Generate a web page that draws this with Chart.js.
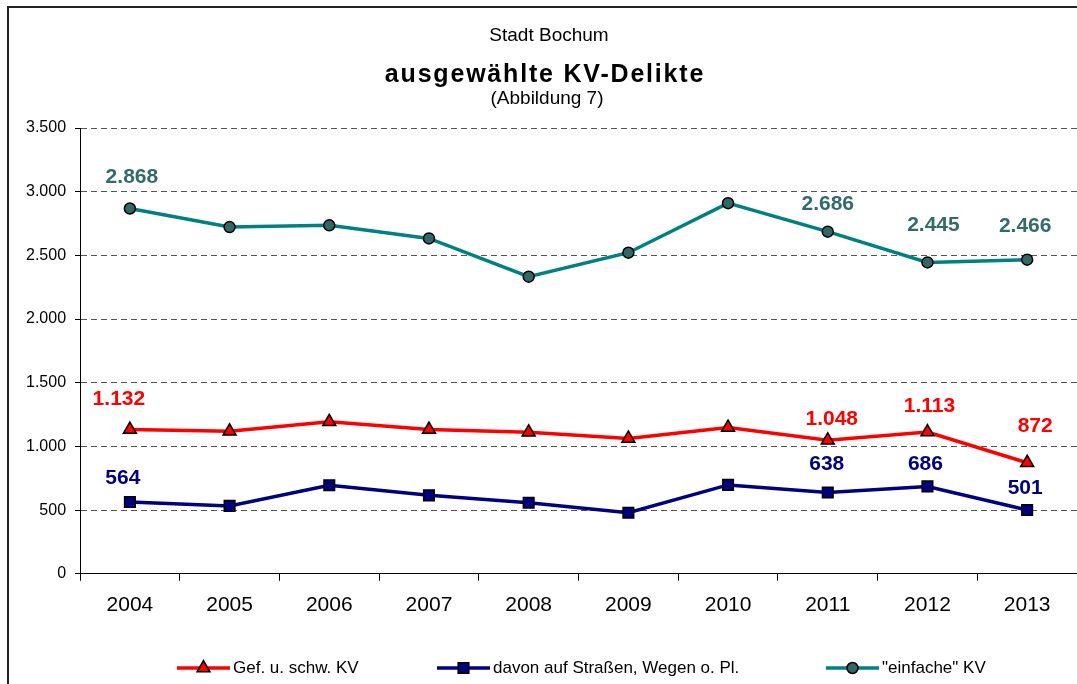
<!DOCTYPE html>
<html>
<head>
<meta charset="utf-8">
<title>ausgewählte KV-Delikte</title>
<script src="https://cdn.jsdelivr.net/npm/chart.js@4/dist/chart.umd.min.js"></script>
<style>
  html, body { margin: 0; padding: 0; background: #fff; overflow: hidden; }
  #wrap { width: 1077px; height: 684px; }
</style>
</head>
<body>
<div id="wrap"><canvas id="myChart" width="1077" height="684"></canvas></div>
<script>
// years on the x axis
const years = ['2004', '2005', '2006', '2007', '2008', '2009', '2010', '2011', '2012', '2013'];

// Gef. u. schw. KV
const gefSchw = [1132, 1119, 1193, 1132, 1111, 1063, 1148, 1048, 1113, 872];
// davon auf Straßen, Wegen o. Pl.
const strassen = [564, 533, 695, 616, 558, 479, 698, 638, 686, 501];
// "einfache" KV
const einfache = [2868, 2722, 2736, 2633, 2333, 2521, 2910, 2686, 2445, 2466];

// which points get a value label (index into years)
const labeledPoints = [0, 7, 8, 9];

const yTicks = [0, 500, 1000, 1500, 2000, 2500, 3000, 3500];

const FONT = '"Liberation Sans", Arial, sans-serif';

function fmt(v) {
  return String(v).replace(/\B(?=(\d{3})+(?!\d))/g, '.');
}

// label offsets (dx, dy) relative to the point, per dataset, per labeled point
const labelOffsets = [
  [[-11, -30], [4, -21], [2, -26], [8, -37]],
  [[-7, -24], [-1, -28], [-2, -22], [-2, -22]],
  [[2, -31], [0, -27], [6, -37], [-2, -33]]
];
const labelColors = ['#FF0000', '#000080', '#336B6B'];

function drawMarker(c, style, r, x, y) {
  if (style === 'triangle') {
    c.moveTo(x, y - r);
    c.lineTo(x + r * Math.sin(Math.PI / 3), y + r / 2);
    c.lineTo(x - r * Math.sin(Math.PI / 3), y + r / 2);
    c.closePath();
  } else if (style === 'rect') {
    const s = r * Math.SQRT1_2;
    c.rect(x - s, y - s, 2 * s, 2 * s);
  } else {
    c.arc(x, y, r, 0, Math.PI * 2);
  }
}

const decor = {
  id: 'decor',
  beforeDraw(chart) {
    const c = chart.ctx;
    c.save();
    c.fillStyle = '#fff';
    c.fillRect(0, 0, chart.width, chart.height);
    // outer frame (runs off the right and bottom)
    c.strokeStyle = '#222';
    c.lineWidth = 2;
    c.beginPath();
    c.moveTo(8, chart.height + 2);
    c.lineTo(8, 7);
    c.lineTo(chart.width + 2, 7);
    c.stroke();

    // titles
    c.fillStyle = '#000';
    c.textAlign = 'center';
    c.textBaseline = 'alphabetic';
    c.font = '19px ' + FONT;
    c.fillText('Stadt Bochum', 549, 41);
    c.font = 'bold 25px ' + FONT;
    c.letterSpacing = '1.8px';
    c.fillText('ausgewählte KV-Delikte', 545, 82);
    c.letterSpacing = '0px';
    c.font = '19px ' + FONT;
    c.fillText('(Abbildung 7)', 547, 104);
    c.restore();
  },
  afterDraw(chart) {
    const c = chart.ctx;
    c.save();
    // legend
    const items = [
      { x: 177, text: 'Gef. u. schw. KV', ds: 0 },
      { x: 437, text: 'davon auf Straßen, Wegen o. Pl.', ds: 1 },
      { x: 826, text: '"einfache" KV', ds: 2 }
    ];
    const ly = 668;
    items.forEach(it => {
      const d = chart.data.datasets[it.ds];
      c.strokeStyle = d.borderColor;
      c.lineWidth = d.borderWidth;
      c.beginPath();
      c.moveTo(it.x, ly);
      c.lineTo(it.x + 53, ly);
      c.stroke();
      c.fillStyle = d.pointBackgroundColor;
      c.strokeStyle = d.pointBorderColor;
      c.lineWidth = d.pointBorderWidth;
      c.beginPath();
      drawMarker(c, d.pointStyle, d.pointRadius, it.x + 26.5, ly);
      c.fill();
      c.stroke();
      c.fillStyle = '#000';
      c.font = '17px ' + FONT;
      c.textAlign = 'left';
      c.textBaseline = 'middle';
      c.fillText(it.text, it.x + 56, ly);
    });
    c.restore();
  },
  afterDatasetsDraw(chart) {
    const c = chart.ctx;
    c.save();
    c.font = 'bold 21px ' + FONT;
    c.textAlign = 'center';
    c.textBaseline = 'middle';
    chart.data.datasets.forEach((ds, di) => {
      const meta = chart.getDatasetMeta(di);
      labeledPoints.forEach((idx, k) => {
        const p = meta.data[idx];
        const off = labelOffsets[di][k];
        c.fillStyle = labelColors[di];
        c.fillText(fmt(ds.data[idx]), p.x + off[0], p.y + off[1]);
      });
    });
    c.restore();
  }
};

const ctx = document.getElementById('myChart').getContext('2d');
const myChart = new Chart(ctx, {
  type: 'line',
  data: {
    labels: years,
    datasets: [
      {
        label: 'Gef. u. schw. KV',
        data: gefSchw,
        borderColor: '#FF0000',
        borderWidth: 3.5,
        pointStyle: 'triangle',
        pointRadius: 7.5,
        pointBackgroundColor: '#FF0000',
        pointBorderColor: '#000',
        pointBorderWidth: 1.5
      },
      {
        label: 'davon auf Straßen, Wegen o. Pl.',
        data: strassen,
        borderColor: '#000080',
        borderWidth: 3.5,
        pointStyle: 'rect',
        pointRadius: 7.5,
        pointBackgroundColor: '#000080',
        pointBorderColor: '#000',
        pointBorderWidth: 1.5
      },
      {
        label: '"einfache" KV',
        data: einfache,
        borderColor: '#008080',
        borderWidth: 3.5,
        pointStyle: 'circle',
        pointRadius: 5.5,
        pointBackgroundColor: '#336666',
        pointBorderColor: '#000',
        pointBorderWidth: 1.5
      }
    ]
  },
  options: {
    responsive: false,
    animation: false,
    events: [],
    elements: { line: { tension: 0 } },
    layout: { autoPadding: false, padding: { top: 128, left: 17, right: 0, bottom: 54 } },
    plugins: {
      legend: { display: false },
      title: { display: false },
      tooltip: { enabled: false }
    },
    scales: {
      x: {
        offset: true,
        grid: {
          offset: true,
          drawOnChartArea: false,
          drawTicks: true,
          tickLength: 7,
          color: '#000',
          tickColor: '#000'
        },
        border: { display: true, color: '#000', width: 1 },
        ticks: { color: '#000', font: { family: FONT, size: 21 }, padding: 12 }
      },
      y: {
        min: 0,
        max: 3500,
        afterBuildTicks(axis) {
          axis.ticks = yTicks.map(v => ({ value: v }));
        },
        grid: {
          color: c => (c.tick && c.tick.value === 0 ? 'rgba(0,0,0,0)' : '#555'),
          tickColor: '#000',
          tickLength: 5,
          lineWidth: 1
        },
        border: { display: true, color: '#000', width: 1, dash: [6, 4] },
        ticks: {
          color: '#000',
          font: { family: FONT, size: 16 },
          padding: 9,
          callback: v => fmt(v)
        }
      }
    }
  },
  plugins: [decor]
});
</script>
</body>
</html>
